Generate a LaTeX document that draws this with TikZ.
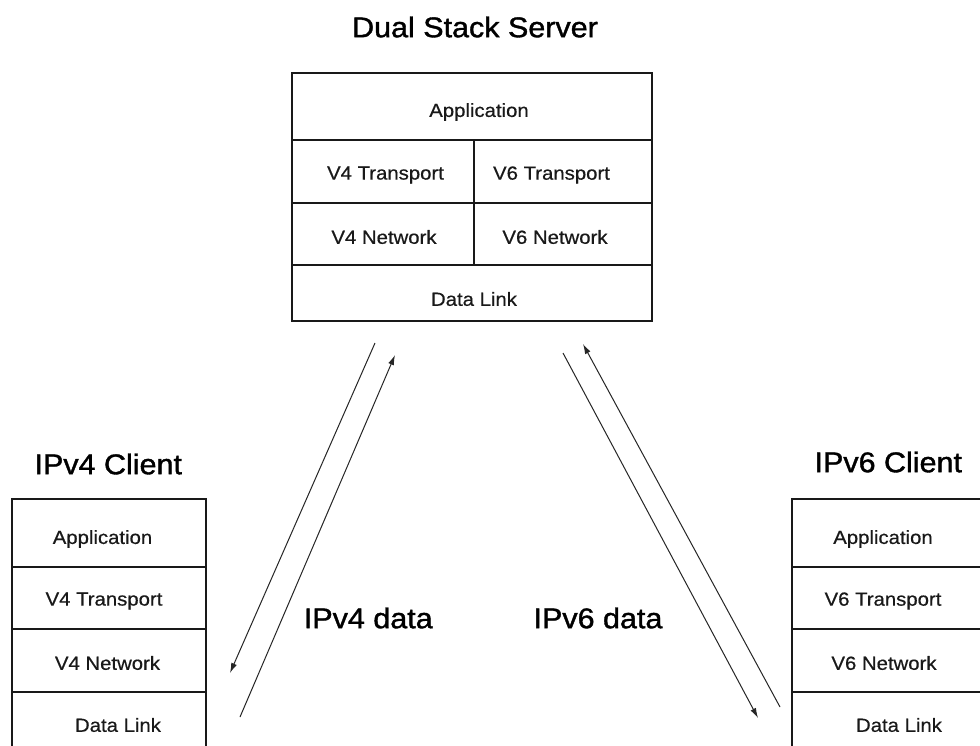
\documentclass[tikz,border=0pt]{standalone}
\usepackage{fontspec}
\setmainfont{Liberation Sans}[FakeStretch=1.07, FakeBold=0.5]
\newfontfamily\headfont{Liberation Sans}[FakeStretch=1.07, FakeBold=1.3]
\usetikzlibrary{arrows.meta}

\begin{document}
\begin{tikzpicture}[x=1pt,y=-1pt,
  cell/.style={draw=black!90, line width=1.3pt, inner sep=0pt},
  celltext/.style={font=\fontsize{19}{19}\selectfont, text=black!90, inner sep=0pt},
  heading/.style={font=\headfont\fontsize{28.5}{28.5}\selectfont, inner sep=0pt},
  flow/.style={draw=black!85, line width=1pt, -{Latex[length=10pt,width=6pt]}}]

\useasboundingbox[fill=white] (0,0) rectangle (980,745);

% ---------- dual stack server ----------
\node[heading] (srvtitle) at (475,27) {Dual Stack Server};

\node[cell, minimum width=360, minimum height=67] (sApp) at (472,106.5) {};
\node[cell, minimum width=182, minimum height=63] (sV4T) at (383,171.5) {};
\node[cell, minimum width=178, minimum height=63] (sV6T) at (563,171.5) {};
\node[cell, minimum width=182, minimum height=62] (sV4N) at (383,234) {};
\node[cell, minimum width=178, minimum height=62] (sV6N) at (563,234) {};
\node[cell, minimum width=360, minimum height=56] (sDL)  at (472,293) {};

\node[celltext] (tsApp) at (479,112)   {Application};
\node[celltext] (tsV4T) at (385.5,175) {V4 Transport};
\node[celltext] (tsV6T) at (551.5,175) {V6 Transport};
\node[celltext] (tsV4N) at (384,237)   {V4 Network};
\node[celltext] (tsV6N) at (555,237)   {V6 Network};
\node[celltext] (tsDL)  at (474,299)   {Data Link};

% ---------- IPv4 client ----------
\node[heading] (c4title) at (108.3,464) {IPv4 Client};

\node[cell, minimum width=194, minimum height=68] (aApp) at (109,533)   {};
\node[cell, minimum width=194, minimum height=62] (aT)   at (109,598)   {};
\node[cell, minimum width=194, minimum height=63] (aN)   at (109,660.5) {};
\node[cell, minimum width=194, minimum height=68] (aDL)  at (109,726)   {};

\node[celltext] (taApp) at (102.5,539) {Application};
\node[celltext] (taT)   at (104,601)   {V4 Transport};
\node[celltext] (taN)   at (107.5,663) {V4 Network};
\node[celltext] (taDL)  at (118,725)   {Data Link};

% ---------- IPv6 client ----------
\node[heading] (c6title) at (888.3,462) {IPv6 Client};

\node[cell, minimum width=194, minimum height=68] (bApp) at (889,533)   {};
\node[cell, minimum width=194, minimum height=62] (bT)   at (889,598)   {};
\node[cell, minimum width=194, minimum height=63] (bN)   at (889,660.5) {};
\node[cell, minimum width=194, minimum height=68] (bDL)  at (889,726)   {};

\node[celltext] (tbApp) at (883,539) {Application};
\node[celltext] (tbT)   at (883,601) {V6 Transport};
\node[celltext] (tbN)   at (884,663) {V6 Network};
\node[celltext] (tbDL)  at (899,725) {Data Link};

% ---------- traffic between hosts ----------
\coordinate (v4down-s) at (375,343);
\coordinate (v4down-e) at (230,673);
\coordinate (v4up-s)   at (240,717);
\coordinate (v4up-e)   at (395,355);
\coordinate (v6down-s) at (563,353);
\coordinate (v6down-e) at (758,718);
\coordinate (v6up-s)   at (780,707);
\coordinate (v6up-e)   at (583,344);

\draw[flow] (v4down-s) -- (v4down-e);
\draw[flow] (v4up-s) -- (v4up-e);
\draw[flow] (v6down-s) -- (v6down-e);
\draw[flow] (v6up-s) -- (v6up-e);

\node[heading] (v4lbl) at (368.3,618) {IPv4 data};
\node[heading] (v6lbl) at (598,618)   {IPv6 data};

\end{tikzpicture}
\end{document}
